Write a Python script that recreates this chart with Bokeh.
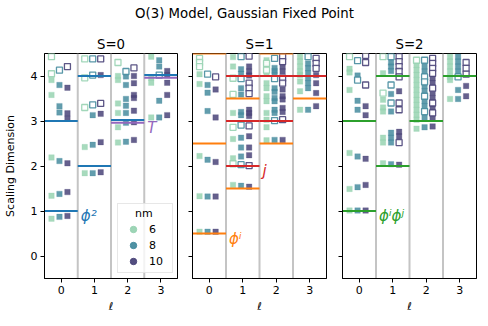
import numpy as np
from bokeh.plotting import figure
from bokeh.layouts import column, row
from bokeh.models import Span, Legend, LegendItem, FixedTicker, Range1d, ColumnDataSource
from bokeh.core.properties import value
from bokeh.embed import file_html
from bokeh.resources import INLINE

FONT = "DejaVu Sans"
TITLE = "O(3) Model, Gaussian Fixed Point"
PANEL_TITLES = ["S=0", "S=1", "S=2"]
ELL_TICKS = [0, 1, 2, 3]
DIM_TICKS = [0, 1, 2, 3, 4]
NMS = [6, 8, 10]

# ---- spectra: per nm, list indexed by ell (0..3) ----
S0_FILLED = {
    6: [[3.91, 3.58, 2.19, 1.34, 0.83], [2.42, 1.84], [4.00, 3.91, 3.39, 3.18, 2.86, 2.52], [4.43, 3.96, 3.85, 3.08]],
    8: [[3.80, 3.33, 3.19, 2.11, 1.38, 0.87], [3.13, 2.47, 1.84], [3.99, 3.80, 3.49, 3.34, 3.18, 2.96, 2.54], [4.35, 4.21, 3.45, 3.08]],
    10: [[3.74, 3.17, 3.05, 2.06, 1.42, 0.89], [4.02, 3.16, 2.53, 1.86], [4.00, 3.84, 3.58, 3.51, 3.23, 2.97, 2.58], [4.11, 4.02, 3.85, 3.58, 3.13]],
}
S0_OPEN = {
    6: [[4.43, 4.05], [4.38, 3.96, 3.30], [4.30], []],
    8: [[4.13], [4.38, 4.02, 3.36], [4.10], [4.02]],
    10: [[4.21], [4.38, 3.39], [4.18], []],
}
S1_FILLED = {
    6: [[4.04, 3.82, 2.22, 1.33, 0.54], [4.42, 4.21, 3.18, 2.60, 2.17, 1.58],
        [4.35, 4.21, 4.06, 3.84, 3.73, 3.55, 3.44, 3.18, 3.03, 2.86, 2.57], [4.43, 4.32, 4.21, 4.10, 4.02, 3.88, 3.66, 3.25]],
    8: [[3.80, 3.63, 3.22, 2.14, 1.32, 0.54], [4.15, 4.05, 3.73, 3.59, 3.20, 3.13, 2.63, 2.41, 2.21, 1.56],
        [4.18, 4.11, 4.04, 3.73, 3.65, 3.51, 3.44, 3.25, 3.18, 2.58], [4.28, 4.17, 4.06, 3.95, 3.84, 3.73, 3.25]],
    10: [[3.70, 3.08, 2.09, 1.32, 0.54], [4.21, 4.10, 4.01, 3.25, 3.18, 3.11, 2.66, 2.41, 2.24, 1.54],
         [4.21, 4.10, 3.70, 3.55, 3.48, 3.29, 3.20, 2.58], [4.02, 3.84, 3.62, 3.33]],
}
S1_OPEN = {
    6: [[4.39, 4.30, 4.21], [3.95, 3.59, 2.86, 2.05], [4.28, 4.13], []],
    8: [[4.04], [4.43, 3.94, 2.91, 2.03], [4.39, 3.94, 3.01], [4.43]],
    10: [[3.98], [4.44, 3.84, 3.73, 3.61, 2.89, 2.01], [4.43, 4.32, 3.95, 3.84, 3.03], [4.39, 4.28, 4.17]],
}
S2_FILLED = {
    6: [[4.16, 4.08, 3.69, 2.29, 1.49, 1.01], [4.06, 3.47, 3.30, 3.21, 2.63, 2.52, 2.06],
        [4.24, 4.13, 4.02, 3.91, 3.80, 3.69, 3.58, 3.47, 3.36, 3.25, 3.14, 3.03, 2.83], [4.43, 4.32, 4.21, 4.10, 3.98, 3.91, 3.49]],
    8: [[4.01, 3.45, 3.25, 2.21, 1.53, 1.01], [4.30, 4.21, 4.11, 3.60, 3.21, 2.74, 2.63, 2.52, 2.04],
        [4.21, 4.10, 3.77, 3.66, 3.44, 3.33, 3.07, 2.86], [4.43, 4.32, 4.21, 4.10, 3.69, 3.49]],
    10: [[3.33, 3.13, 2.16, 1.58, 1.01], [3.66, 2.76, 2.66, 2.03],
         [3.95, 3.84, 3.62, 3.51, 3.29, 3.07, 2.88], [3.78, 3.55]],
}
S2_OPEN = {
    6: [[4.43], [4.43, 3.62], [4.35], []],
    8: [[4.34, 3.91], [4.43, 3.80, 3.40], [4.35, 3.98, 3.87, 3.55, 3.21], [3.98]],
    10: [[4.46, 4.30, 3.80], [4.43, 4.32, 4.21, 4.10, 3.98, 3.40, 3.25, 2.52],
         [4.39, 4.28, 4.17, 4.06, 3.73, 3.40, 3.18], [4.30, 4.17, 4.04]],
}

# ---- exact (Gaussian) levels ----
S0_BLUE_ELL = [0, 0, 1, 1, 2, 3]
S0_BLUE_DIM = [1, 3, 2, 4, 3.02, 4.02]
S0_PURPLE_ELL = [2, 3]
S0_PURPLE_DIM = [2.96, 3.96]
S1_ORANGE_ELL = [0, 0, 0, 1, 1, 2, 2, 3]
S1_ORANGE_DIM = [0.5, 2.5, 4.5, 1.5, 3.5, 2.5, 4.5, 3.5]
S1_RED_ELL = [1, 1, 1, 2, 2, 3]
S1_RED_DIM = [2, 3, 4, 3, 4, 4]
S2_GREEN_ELL = [0, 0, 1, 1, 2, 3]
S2_GREEN_DIM = [1, 3, 2, 4, 3, 4]

S0_LABELS = (["ϕ²", "T"], [0, 2], [1, 2.96], ["#1f77b4", "#9467bd"])
S1_LABELS = (["ϕⁱ", "j"], [0, 1], [0.5, 2], ["#ff7f0e", "#d62728"])
S2_LABELS = (["ϕⁱϕʲ"], [0], [1], ["#2ca02c"])

NM_COLORS = {6: "#98d3b2", 8: "#468c9f", 10: "#4a4479"}
NM_OFFSET = {6: -0.29, 8: -0.05, 10: 0.19}


def panel(idx, filled, opened, lines, labels, width, mbl, mbr, ylabels):
    p = figure(width=width, height=299, x_range=Range1d(-0.5, 3.5), y_range=Range1d(-0.5, 4.5),
               output_backend="svg", toolbar_location=None, title=PANEL_TITLES[idx],
               min_border_left=mbl, min_border_right=mbr, min_border_top=26, min_border_bottom=48)
    p.title.align = "center"
    p.title.text_font = FONT
    p.title.text_font_size = "13.3px"
    p.title.text_font_style = "normal"
    p.title.text_color = "black"
    p.title.standoff = 4
    p.grid.visible = False
    p.outline_line_color = "black"
    p.outline_line_width = 1
    p.background_fill_color = "white"
    p.border_fill_color = "white"

    for ax in (p.xaxis[0], p.yaxis[0]):
        ax.major_tick_in = 0
        ax.major_tick_out = 4
        ax.minor_tick_in = 0
        ax.minor_tick_out = 0
        ax.major_tick_line_color = "black"
        ax.axis_line_color = "black"
        ax.major_label_text_font = FONT
        ax.major_label_text_font_size = "11px"
        ax.major_label_text_color = "black"
        ax.axis_label_text_font = FONT
        ax.axis_label_text_font_size = "11px"
        ax.axis_label_text_font_style = "normal"
        ax.axis_label_text_color = "black"
    p.xaxis.ticker = FixedTicker(ticks=ELL_TICKS)
    p.yaxis.ticker = FixedTicker(ticks=DIM_TICKS)
    p.xaxis.axis_label = "ℓ"
    p.xaxis.axis_label_standoff = 3
    p.xaxis.major_label_standoff = 3
    if ylabels:
        p.yaxis.axis_label = "Scaling Dimension"
        p.yaxis.axis_label_standoff = 11
        p.yaxis.major_label_standoff = 3
    else:
        p.yaxis.major_label_text_font_size = "1px"
        p.yaxis.major_label_text_color = None
        p.yaxis.major_label_standoff = 0

    for t in ELL_TICKS[:-1]:
        p.add_layout(Span(location=t + 0.5, dimension="height", line_color="#c4c4c4",
                          line_width=2, level="underlay"))

    for nm in NMS:
        fx = [l + NM_OFFSET[nm] for l, vals in enumerate(filled[nm]) for _ in vals]
        fy = [v for vals in filled[nm] for v in vals]
        p.scatter(x=fx, y=fy, marker="square", size=5.5, fill_color=NM_COLORS[nm],
                  fill_alpha=0.85, line_color=NM_COLORS[nm], line_alpha=0.5, line_width=0.5)
        ox = [l + NM_OFFSET[nm] for l, vals in enumerate(opened[nm]) for _ in vals]
        oy = [v for vals in opened[nm] for v in vals]
        p.scatter(x=ox, y=oy, marker="square", size=6, fill_color="white", fill_alpha=0.9,
                  line_color=NM_COLORS[nm], line_alpha=0.9, line_width=1.3)

    for ell, dim, color in lines:
        e = np.array(ell, dtype=float)
        d = np.array(dim, dtype=float)
        p.segment(x0=e - 0.5, x1=e + 0.5, y0=d, y1=d, line_color=color, line_width=2)

    texts, lell, ldim, lcol = labels
    src = ColumnDataSource(dict(x=[l + 0.5 for l in lell], y=ldim, t=texts, c=lcol))
    p.text(x="x", y="y", text="t", text_color="c", source=src, text_font=value(FONT),
           text_font_size="15px", text_font_style="italic", text_baseline="middle",
           text_align="left", x_offset=3, y_offset=5)
    return p


p1 = panel(0, S0_FILLED, S0_OPEN,
           [(S0_BLUE_ELL, S0_BLUE_DIM, "#1f77b4"), (S0_PURPLE_ELL, S0_PURPLE_DIM, "#9467bd")],
           S0_LABELS, 185, 43, 8, True)
p2 = panel(1, S1_FILLED, S1_OPEN,
           [(S1_ORANGE_ELL, S1_ORANGE_DIM, "#ff7f0e"), (S1_RED_ELL, S1_RED_DIM, "#d62728")],
           S1_LABELS, 149, 7, 8, False)
p3 = panel(2, S2_FILLED, S2_OPEN,
           [(S2_GREEN_ELL, S2_GREEN_DIM, "#2ca02c")],
           S2_LABELS, 154, 8, 12, False)

# legend (circle swatches): hidden renderers that hold the nm points
items = []
for nm in NMS:
    lx = [l + NM_OFFSET[nm] for l, vals in enumerate(S0_FILLED[nm]) for _ in vals]
    ly = [v for vals in S0_FILLED[nm] for v in vals]
    lsrc = ColumnDataSource(dict(x=lx, y=ly))
    r = p1.scatter(x="x", y="y", source=lsrc, marker="circle", size=8,
                   fill_color=NM_COLORS[nm], line_color=NM_COLORS[nm], fill_alpha=0.95)
    r.visible = False
    items.append(LegendItem(label=str(nm), renderers=[r]))
leg = Legend(items=items, title="    nm", location=(73, 5), padding=3, spacing=0,
             glyph_width=24, glyph_height=16, label_height=16, label_width=20, label_standoff=4,
             label_text_font=FONT, label_text_font_size="11px", label_text_color="black",
             title_text_font=FONT, title_text_font_size="11px", title_text_font_style="normal",
             title_text_color="black", title_standoff=1, click_policy="none",
             border_line_color="#d0d0d0", border_line_width=1, background_fill_alpha=0.8)
p1.add_layout(leg, "center")

# overall title
pt = figure(width=488, height=27, x_range=Range1d(0, 1), y_range=Range1d(0, 1), x_axis_type=None,
            y_axis_type=None, output_backend="svg", toolbar_location=None, min_border=0)
pt.grid.visible = False
pt.outline_line_color = None
pt.text(x=[0.5], y=[1], text=[TITLE], text_font=value(FONT), text_font_size="13.3px",
        text_align="center", text_baseline="top", text_color="black", y_offset=5)

layout = column(pt, row(p1, p2, p3))
open("out.html", "w").write(file_html(layout, INLINE))
